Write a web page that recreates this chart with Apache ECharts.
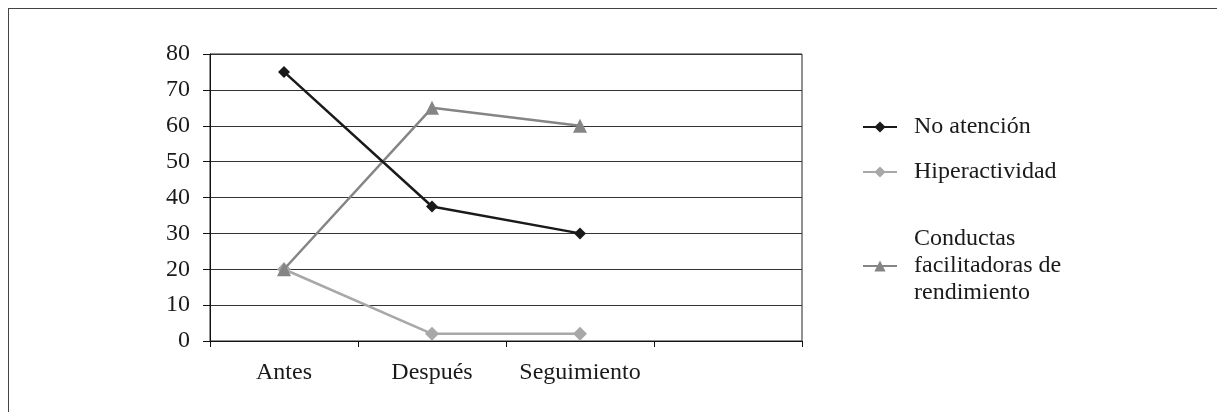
<!DOCTYPE html>
<html>
<head>
<meta charset="utf-8">
<script src="https://cdn.jsdelivr.net/npm/echarts@6/dist/echarts.min.js"></script>
<style>
  html, body { margin: 0; padding: 0; background: #fff; }
  #wrap { position: relative; width: 1217px; height: 412px; overflow: hidden; }
  #chart { position: absolute; left: 0; top: 0; width: 1217px; height: 412px; }
  #frame { position: absolute; left: 8px; top: 8px; width: 1300px; height: 500px;
           border-left: 1.5px solid #444; border-top: 1.5px solid #444; pointer-events: none; }
</style>
</head>
<body>
<div id="wrap"><div id="chart"></div><div id="frame"></div></div>
<script>
const categories = ['Antes', 'Después', 'Seguimiento', ''];
const seriesNames = ['No atención', 'Hiperactividad', 'Conductas\nfacilitadoras de\nrendimiento'];
const noAtencion = [75, 37.5, 30, null];
const hiperactividad = [20, 2, 2, null];
const conductas = [20, 65, 60, null];
const yTicks = [0, 10, 20, 30, 40, 50, 60, 70, 80];

const FONT = '"Liberation Serif", "DejaVu Serif", serif';
const chart = echarts.init(document.getElementById('chart'), null, { renderer: 'canvas' });

function legendFor(name, top) {
  return {
    orient: 'vertical',
    left: 862,
    top: top,
    padding: 0,
    itemWidth: 34,
    itemHeight: 14,
    selectedMode: false,
    data: [name],
    textStyle: { fontFamily: FONT, fontSize: 24, lineHeight: 27, color: '#1a1a1a', padding: [0, 0, 0, 12] }
  };
}

const option = {
  animation: false,
  backgroundColor: '#fff',
  grid: { left: 210, right: 415, top: 54, bottom: 71, show: true, borderColor: '#222', borderWidth: 1 },
  legend: [
    legendFor(seriesNames[0], 113.5),
    legendFor(seriesNames[1], 158.5),
    legendFor(seriesNames[2], 225.5)
  ],
  xAxis: {
    type: 'category',
    data: categories,
    boundaryGap: true,
    axisLine: { show: true, lineStyle: { color: '#111', width: 1 } },
    axisTick: { show: true, length: 6, lineStyle: { color: '#111' } },
    axisLabel: { fontFamily: FONT, fontSize: 24, color: '#1a1a1a', margin: 20, interval: 0 },
    splitLine: { show: false }
  },
  yAxis: {
    type: 'value',
    min: yTicks[0],
    max: yTicks[yTicks.length - 1],
    interval: 10,
    axisLine: { show: true, lineStyle: { color: '#111', width: 1 } },
    axisTick: { show: true, length: 7, lineStyle: { color: '#111' } },
    axisLabel: { fontFamily: FONT, fontSize: 24, color: '#1a1a1a', margin: 20 },
    splitLine: { show: true, lineStyle: { color: '#333', width: 1 } }
  },
  series: [
    {
      name: seriesNames[0], type: 'line', data: noAtencion,
      symbol: 'diamond', symbolSize: 12,
      lineStyle: { color: '#1a1a1a', width: 2.5 },
      itemStyle: { color: '#1a1a1a' }, z: 4
    },
    {
      name: seriesNames[1], type: 'line', data: hiperactividad,
      symbol: 'diamond', symbolSize: 14,
      lineStyle: { color: '#a8a8a8', width: 2.5 },
      itemStyle: { color: '#a8a8a8' }, z: 2
    },
    {
      name: seriesNames[2], type: 'line', data: conductas,
      symbol: 'triangle', symbolSize: 14,
      lineStyle: { color: '#858585', width: 2.5 },
      itemStyle: { color: '#858585' }, z: 3
    }
  ]
};
chart.setOption(option);
</script>
</body>
</html>
